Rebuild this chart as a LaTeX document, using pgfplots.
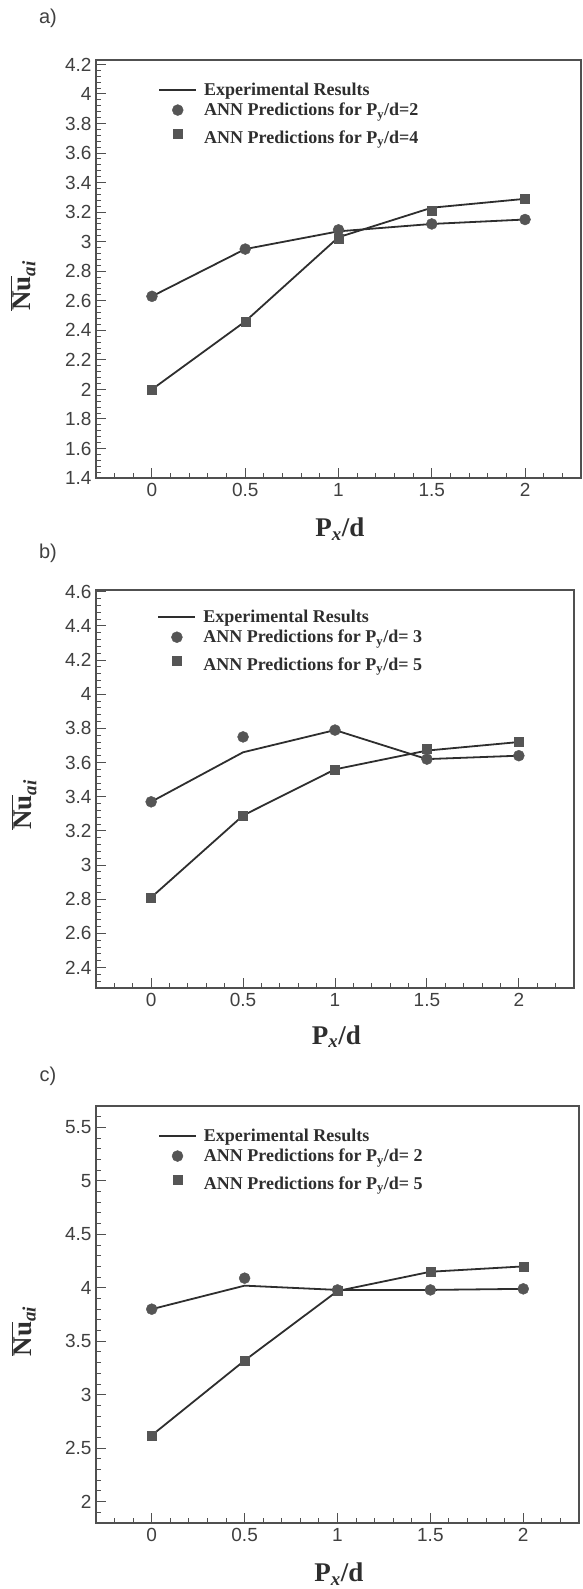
\documentclass[border=0pt]{standalone}
\usepackage{fontspec}
\setmainfont{Liberation Serif}
\setsansfont{Liberation Sans}
\usepackage{pgfplots}
\pgfplotsset{compat=1.18}

\definecolor{axgray}{HTML}{505050}
\definecolor{linegray}{HTML}{2E2E2E}
\definecolor{markgray}{HTML}{555555}
\definecolor{txtgray}{HTML}{404040}

\pgfplotsset{
  mystyle/.style={
    scale only axis,
    xmin=-0.3, xmax=2.3,
    xtick={0,0.5,1,1.5,2},
    minor xtick={-0.2,-0.1,0.1,0.2,0.3,0.4,0.6,0.7,0.8,0.9,1.1,1.2,1.3,1.4,1.6,1.7,1.8,1.9,2.1,2.2},
    tick pos=left,
    tick align=inside,
    major tick length=10pt,
    minor tick length=5pt,
    axis line style={axgray, line width=1.3pt},
    every tick/.style={axgray, line width=1pt},
    tick label style={font=\fontsize{19}{21}\selectfont\sffamily, text=txtgray},
    /pgf/number format/assume math mode=true,
    xticklabel style={yshift=-2pt},
    yticklabel style={xshift=-1pt},
    label style={font=\fontsize{27}{30}\selectfont\bfseries, text=linegray},
    xlabel={P\textsubscript{\itshape x}/d},
    ylabel={$\overline{\mbox{Nu}}$\textsubscript{\itshape ai}},
    ylabel style={at={(axis description cs:-0.15,0.46)}, anchor=center},
    xlabel style={at={(axis description cs:0.503,-0.122)}, anchor=center},
    legend cell align=left,
    legend style={draw=none, fill=none, at={(axis description cs:0.122,0.955)}, anchor=north west,
      font=\fontsize{18}{20}\selectfont\bfseries, row sep=2pt, column sep=0pt,
      /tikz/every odd column/.append style={column sep=5pt},
      nodes={inner sep=2pt, text=linegray}},
  },
  expline/.style={linegray, line width=1.8pt, mark=none,
    legend image code/.code={\draw[##1] (0pt,0pt) -- (37pt,0pt);}},
  circ/.style={only marks, mark=*, mark size=5.5pt, mark options={fill=markgray, draw=markgray},
    legend image code/.code={\draw[mark repeat=2,mark phase=2,##1] plot coordinates {(0pt,0pt) (18.5pt,0pt) (37pt,0pt)};}},
  sqr/.style={only marks, mark=square*, mark size=4.5pt, mark options={fill=markgray, draw=markgray},
    legend image code/.code={\draw[mark repeat=2,mark phase=2,##1] plot coordinates {(0pt,0pt) (18.5pt,0pt) (37pt,0pt)};}},
}

\begin{document}
\begin{tikzpicture}
\useasboundingbox (0,0) rectangle (582pt,-1589pt);

\node[font=\fontsize{20}{22}\selectfont\sffamily, text=txtgray] at (48pt,-18pt) {a)};
\node[font=\fontsize{20}{22}\selectfont\sffamily, text=txtgray] at (48pt,-553pt) {b)};
\node[font=\fontsize{20}{22}\selectfont\sffamily, text=txtgray] at (48pt,-1076pt) {c)};

% ---------------- a ----------------
\begin{axis}[mystyle, at={(96pt,-478pt)}, anchor=south west,
  width=485pt, height=418pt,
  ymin=1.4, ymax=4.23,
  ytick={1.4,1.6,...,4.21},
  minor ytick={1.44,1.48,...,4.22},
]
\addplot[expline] coordinates {(0,2.63) (0.5,2.95) (1,3.07) (1.5,3.12) (2,3.15)};
\addlegendentry{Experimental Results}
\addplot[expline, forget plot] coordinates {(0,2.00) (0.5,2.46) (1,3.03) (1.5,3.23) (2,3.29)};
\addplot[circ] coordinates {(0,2.63) (0.5,2.95) (1,3.08) (1.5,3.12) (2,3.15)};
\addlegendentry{ANN Predictions for P\textsubscript{y}/d=2}
\addplot[sqr] coordinates {(0,2.00) (0.5,2.46) (1,3.02) (1.5,3.21) (2,3.29)};
\addlegendentry{\rule{0pt}{20pt}ANN Predictions for P\textsubscript{y}/d=4}
\end{axis}

% ---------------- b ----------------
\begin{axis}[mystyle, at={(96pt,-988pt)}, anchor=south west,
  width=478pt, height=398pt,
  ymin=2.28, ymax=4.61,
  ytick={2.4,2.6,...,4.61},
  minor ytick={2.32,2.36,...,4.61},
  legend style={at={(axis description cs:0.122,0.96)}},
]
\addplot[expline] coordinates {(0,3.37) (0.5,3.66) (1,3.79) (1.5,3.62) (2,3.64)};
\addlegendentry{Experimental Results}
\addplot[expline, forget plot] coordinates {(0,2.81) (0.5,3.29) (1,3.56) (1.5,3.67) (2,3.72)};
\addplot[circ] coordinates {(0,3.37) (0.5,3.75) (1,3.79) (1.5,3.62) (2,3.64)};
\addlegendentry{ANN Predictions for P\textsubscript{y}/d= 3}
\addplot[sqr] coordinates {(0,2.81) (0.5,3.29) (1,3.56) (1.5,3.68) (2,3.72)};
\addlegendentry{\rule{0pt}{20pt}ANN Predictions for P\textsubscript{y}/d= 5}
\end{axis}

% ---------------- c ----------------
\begin{axis}[mystyle, at={(96pt,-1523pt)}, anchor=south west,
  width=483pt, height=417pt,
  ymin=1.8, ymax=5.7,
  ytick={2,2.5,...,5.6},
  minor ytick={1.9,2.0,...,5.65},
]
\addplot[expline] coordinates {(0,3.80) (0.5,4.02) (1,3.98) (1.5,3.98) (2,3.99)};
\addlegendentry{Experimental Results}
\addplot[expline, forget plot] coordinates {(0,2.62) (0.5,3.32) (1,3.97) (1.5,4.15) (2,4.20)};
\addplot[circ] coordinates {(0,3.80) (0.5,4.09) (1,3.98) (1.5,3.98) (2,3.99)};
\addlegendentry{ANN Predictions for P\textsubscript{y}/d= 2}
\addplot[sqr] coordinates {(0,2.62) (0.5,3.32) (1,3.97) (1.5,4.15) (2,4.20)};
\addlegendentry{\rule{0pt}{20pt}ANN Predictions for P\textsubscript{y}/d= 5}
\end{axis}
\end{tikzpicture}
\end{document}
